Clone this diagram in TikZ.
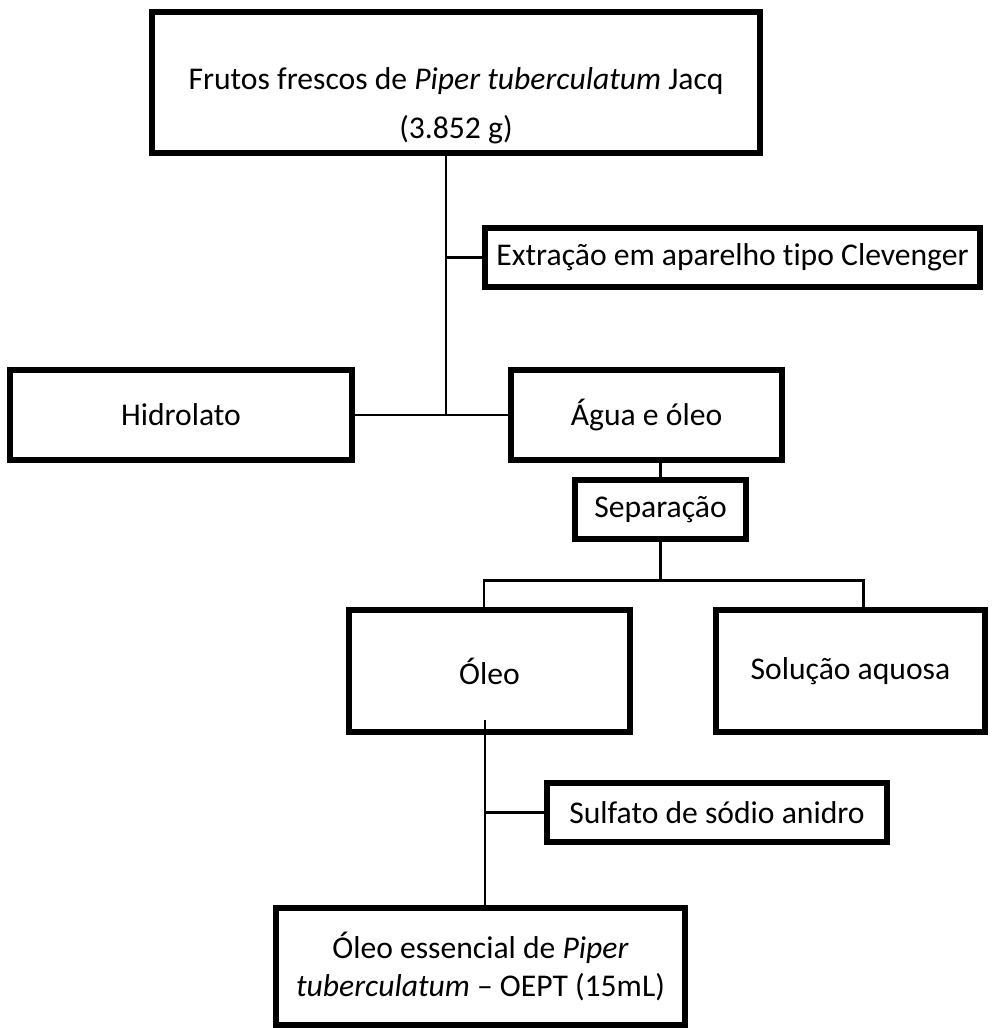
\documentclass[tikz,border=0pt]{standalone}
\usepackage{fontspec}
\setmainfont{Carlito}[Ligatures={TeX,NoCommon}]

\begin{document}
\begin{tikzpicture}[x=0.02cm,y=-0.02cm,
    box/.style={draw,line width=3.2pt,inner sep=0pt,align=center,
      font=\fontsize{18}{21}\selectfont},
    link/.style={line width=1.7pt}]
\useasboundingbox (0,0) rectangle (995,1028);

\node[box,minimum width=12.16cm,minimum height=2.82cm,
  font=\fontsize{18}{28}\selectfont] (frutos) at (456,82.5)
  {\mbox{}\\[11pt]Frutos frescos de \textit{Piper tuberculatum} Jacq\\(3.852 g)};
\node[box,minimum width=9.9cm,minimum height=1.18cm] (clev) at (732.5,257.5)
  {Extração em aparelho tipo Clevenger};
\node[box,minimum width=6.84cm,minimum height=1.8cm] (hidro) at (181,415) {Hidrolato};
\node[box,minimum width=5.42cm,minimum height=1.8cm] (agua) at (646.5,415) {Água e óleo};
\node[box,minimum width=3.42cm,minimum height=1.18cm] (sep) at (660.5,509.5) {Separação};
\node[box,minimum width=5.62cm,minimum height=2.44cm] (oleo) at (489.5,671) {Óleo};
\node[box,minimum width=5.38cm,minimum height=2.44cm] (sol) at (850.5,671) {Solução aquosa};
\node[box,minimum width=6.8cm,minimum height=1.18cm] (sulf) at (717,812.5)
  {Sulfato de sódio anidro};
\node[box,minimum width=8.18cm,minimum height=2.34cm,
  font=\fontsize{18}{22}\selectfont] (oept) at (480.5,966.5)
  {Óleo essencial de \textit{Piper}\\\textit{tuberculatum} – OEPT (15mL)};

\coordinate (j1) at (446,415);
\coordinate (j2) at (484,580);
\coordinate (j3) at (863,580);
\coordinate (j4) at (485,720);

\draw[link] (j1 |- frutos.south) -- (j1);
\draw[link] (j1 |- clev.west) -- (clev.west);
\draw[link] (hidro.east) -- (agua.west);
\draw[link] (sep.north) -- (sep.north |- agua.south);
\draw[link] (sep.south) -- (sep.south |- j2);
\draw[link] (j2 |- oleo.north) -- (j2) -- (j3) -- (j3 |- sol.north);
\draw[link] (j4) -- (j4 |- oept.north);
\draw[link] (j4 |- sulf.west) -- (sulf.west);
\end{tikzpicture}
\end{document}
